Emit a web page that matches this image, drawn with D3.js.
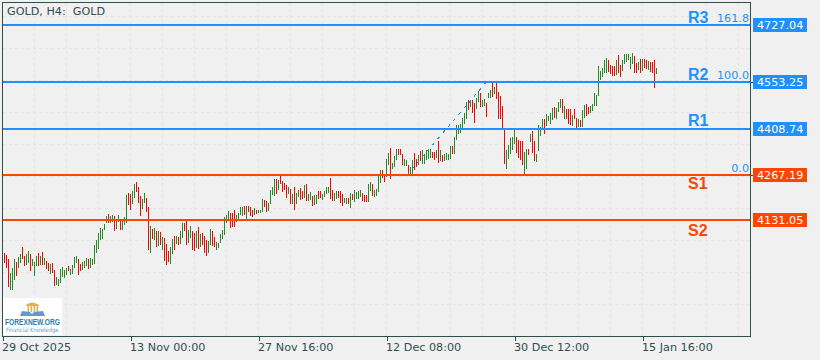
<html>
<meta charset="utf-8" />
<head>
<title>GOLD H4</title>
<script src="https://cdn.jsdelivr.net/npm/d3@7/dist/d3.min.js"></script>
<style>
	body { margin:0; background:#f0f0f0; }
	svg { display:block; }
	text { font-family:"DejaVu Sans"; }
</style>
<script>
// high / low of each H4 bar
const highs = [
	4030,4025,4011,3969,3984,4011,4004,4017,4028,4048,4022,4028,4037,4028,4011,4004,4022,4030,4022,4034,
	4015,4005,4001,3997,4001,3979,3957,3951,3982,3987,3979,3984,3991,3981,3993,4017,4022,4011,3997,4003,
	4007,4015,4011,4014,4013,4055,4070,4090,4106,4103,4119,4143,4149,4143,4146,4143,4133,4146,4131,4131,
	4139,4207,4214,4212,4220,4240,
	4247,4232,4204,4194,4214,4197,4172,4113,4103,4106,4096,4098,4095,4080,4075,4058,4037,4048,4073,4083,
	4083,4080,4098,4121,4123,4129,4101,4113,4096,4090,4098,4111,4087,4092,4083,4070,4068,4104,4098,4080,
	4065,4062,4088,4101,4141,4146,4159,4153,4153,4161,4146,4153,4172,4172,4174,4175,4174,4170,4163,4168,
	4163,4161,4161,4195,4192,4190,4184,
	4223,4231,4255,4256,4253,4265,4250,4243,4238,4231,4226,4212,4231,4214,4223,4228,4221,4238,4240,4212,
	4217,4204,4206,4207,4220,4220,4212,4220,4233,4231,4258,4223,4214,4220,4220,4220,4212,4197,4199,4199,
	4214,4210,4223,4217,4220,4223,4214,4207,4207,4240,4248,4241,4223,4226,4268,4285,4285,4270,4319,4336,
	4352,4304,4326,4347,4349,4347,4334,4317,
	4315,4298,4293,4313,4336,4318,4329,4341,4344,4334,4346,4346,4348,4339,4339,4344,4374,4344,4331,4332,
	4336,4334,4356,4356,4384,4420,4420,4425,4443,4459,4493,4498,4498,4498,4488,4503,4526,4520,4498,4501,
	4488,4518,4528,4553,4538,4553,4523,4510,4478,4410,4344,4359,4381,4386,4405,4386,4377,4374,4372,4339,
	4349,4349,4394,4402,4374,4332,4420,
	4415,4439,4439,4455,4449,4459,4474,4477,4472,4492,4500,4500,4479,4469,4469,4470,4452,4469,4442,4439,
	4437,4467,4482,4487,4477,4479,4487,4518,4513,4601,4587,4596,4619,4627,4619,4606,4601,4601,4619,4634,
	4606,4619,4639,4637,4639,4629,4641,4631,4612,4613,4622,4624,4622,4619,4616,4614,4614,4619,4597
];
const lows = [
	3999,3984,3926,3916,3916,3949,3961,3984,4001,4011,3989,3994,3999,3974,3991,3961,3989,3991,3994,3994,
	3994,3981,3974,3967,3969,3928,3933,3930,3938,3957,3954,3963,3976,3963,3967,3984,3999,3964,3974,3979,
	3984,3989,3981,3984,3995,3997,4030,4042,4070,4072,4101,4121,4123,4121,4126,4096,4103,4126,4099,4101,
	4116,4121,4177,4161,4180,4197,
	4216,4184,4143,4166,4184,4156,4040,4030,4072,4070,4048,4052,4056,4040,4007,3994,4004,3997,4028,4040,
	4058,4055,4058,4075,4098,4055,4062,4075,4040,4037,4045,4042,4048,4055,4030,4022,4030,4055,4052,4048,
	4040,4045,4062,4072,4085,4121,4133,4106,4111,4111,4126,4133,4146,4143,4146,4133,4156,4143,4141,4146,
	4148,4151,4151,4156,4172,4156,4159,
	4180,4207,4205,4212,4223,4240,4217,4223,4197,4210,4180,4180,4162,4180,4200,4192,4194,4197,4190,4190,
	4192,4174,4177,4180,4194,4197,4192,4202,4212,4214,4194,4190,4190,4195,4197,4182,4174,4182,4180,4180,
	4169,4192,4185,4194,4194,4202,4189,4185,4185,4185,4221,4205,4200,4205,4218,4245,4260,4248,4263,4299,
	4256,4286,4294,4314,4329,4329,4299,4296,
	4295,4271,4271,4271,4283,4293,4298,4311,4301,4303,4315,4318,4321,4321,4315,4321,4305,4311,4308,4311,
	4315,4315,4318,4334,4334,4376,4394,4396,4410,4423,4440,4467,4475,4459,4427,4469,4493,4475,4475,4478,
	4445,4503,4503,4506,4516,4500,4440,4440,4410,4301,4288,4318,4332,4344,4362,4336,4321,4313,4298,4273,
	4288,4329,4369,4337,4311,4308,4342,
	4389,4411,4394,4417,4434,4425,4437,4442,4440,4462,4472,4459,4439,4439,4425,4422,4419,4439,4411,4415,
	4415,4415,4442,4449,4455,4459,4465,4479,4479,4510,4558,4569,4579,4581,4584,4576,4571,4571,4574,4579,
	4569,4587,4607,4614,4619,4594,4609,4581,4579,4589,4579,4587,4597,4594,4589,4584,4579,4535,4577
];
// g = up bar, r = down bar
const barDirs = (
	"rrrgggrggrrggrgggrgr" + "grrgrrggggggrggggrrg" + "ggrgggggggggrggrggrg" + "ggrrgg" +
	"rrrggrrgrgrgrgrrrggr" + "grggrrggrrgrgrrrggrr" + "gggggggrrrggggrgrrrg" + "rgggrrg" +
	"gggrgrrrrgrgrggrrgrg" + "grggrrggggrrggrrrggr" + "grggggrrrggrggggrrgg" + "rgggrrrg" +
	"grggrrgrgggggrrgrgrg" + "gggrgggggggrgrrggrgg" + "rggrgrrrrrgggggrrrrg" + "grgrrgg" +
	"ggrggggrgggrgrrrgrrg" + "rggrrgggggggggrrrrgr" + "rggggggrrgrgrrgrrrg"
).split("");

const levelNames = ["R3", "R2", "R1", "S1", "S2"];
const levelPrices = [4727.04, 4553.25, 4408.74, 4267.19, 4131.05];
const levelColors = ["#1e90ff", "#1e90ff", "#1e90ff", "#ff4500", "#ff4500"];

const fibLabels = ["161.8", "100.0", "0.0"];
const fibPrices = [4727.04, 4553.25, 4267.19];
const fibTrendBars = [201, 241];
const fibTrendPrices = [4267.19, 4553.25];

const timeLabels = ["29 Oct 2025", "13 Nov 00:00", "27 Nov 16:00", "12 Dec 08:00", "30 Dec 12:00", "15 Jan 16:00"];
const timeBars = [-1, 63, 127, 191, 255, 319];
const priceTicks = [4553.25, 4267.19];

window.onload = function() {
	const frameColor = "#2f4f4f";
	const svg = d3.select("svg");

	const xScale = d3.scaleLinear().domain([0, 326]).range([4.5, 656.5]);
	const yScale = d3.scaleLinear().domain([4131.05, 4727.04]).range([220, 25]);

	// grid
	const grid = svg.append("g").attr("stroke", "#e6e6e6").attr("stroke-dasharray", "3,3").attr("shape-rendering", "crispEdges");
	d3.range(34, 750, 32).forEach(x => {
		grid.append("line").attr("x1", x + 0.5).attr("x2", x + 0.5).attr("y1", 3).attr("y2", 336);
	});
	d3.range(16, 336, 32).forEach(y => {
		grid.append("line").attr("x1", 3).attr("x2", 750).attr("y1", y + 0.5).attr("y2", y + 0.5);
	});

	// bars
	svg.append("g").attr("shape-rendering", "crispEdges").selectAll("line")
		.data(highs)
		.enter()
		.append("line")
		.attr("x1", (d, i) => xScale(i))
		.attr("x2", (d, i) => xScale(i))
		.attr("y1", d => yScale(d))
		.attr("y2", (d, i) => yScale(lows[i]))
		.attr("stroke", (d, i) => barDirs[i] == "g" ? "#228b22" : "#ff0000");

	// fibo trend line
	svg.append("line")
		.attr("x1", xScale(fibTrendBars[0]))
		.attr("y1", yScale(fibTrendPrices[0]))
		.attr("x2", xScale(fibTrendBars[1]))
		.attr("y2", yScale(fibTrendPrices[1]))
		.attr("stroke", "#1e90ff")
		.attr("stroke-dasharray", "3,5")
		.attr("shape-rendering", "crispEdges");

	// levels
	svg.append("g").selectAll("rect")
		.data(levelPrices)
		.enter()
		.append("rect")
		.attr("x", 3)
		.attr("width", 748)
		.attr("y", d => Math.round(yScale(d)) - 1)
		.attr("height", 2)
		.attr("fill", (d, i) => levelColors[i])
		.attr("shape-rendering", "crispEdges");

	// frame
	svg.append("rect")
		.attr("x", 2.5).attr("y", 2.5).attr("width", 748).attr("height", 334)
		.attr("fill", "none").attr("stroke", frameColor).attr("shape-rendering", "crispEdges");

	// time axis
	const xAxis = d3.axisBottom(xScale).tickValues(timeBars).tickFormat((d, i) => timeLabels[i]).tickSize(4).tickSizeOuter(0);
	const xAxisG = svg.append("g").attr("transform", "translate(0,337)").call(xAxis);
	xAxisG.select(".domain").remove();
	xAxisG.selectAll("line").attr("stroke", frameColor).attr("shape-rendering", "crispEdges");
	xAxisG.selectAll("text")
		.attr("text-anchor", "start").attr("x", -1).attr("y", 14).attr("dy", 0)
		.attr("fill", frameColor).style("font-size", "11.2px").style("font-family", "DejaVu Sans");

	// small price ticks on the right frame
	const yAxis = d3.axisRight(yScale).tickValues(priceTicks).tickFormat("").tickSize(2).tickSizeOuter(0);
	const yAxisG = svg.append("g").attr("transform", "translate(751,0)").call(yAxis);
	yAxisG.select(".domain").remove();
	yAxisG.selectAll("line").attr("stroke", frameColor).attr("shape-rendering", "crispEdges");

	// price labels
	svg.append("g").selectAll("rect")
		.data(levelPrices)
		.enter()
		.append("rect")
		.attr("x", 753)
		.attr("width", 54)
		.attr("y", d => Math.round(yScale(d)) - 7)
		.attr("height", 14)
		.attr("fill", (d, i) => levelColors[i]);
	svg.append("g").selectAll("text")
		.data(levelPrices)
		.enter()
		.append("text")
		.attr("x", 757)
		.attr("y", d => Math.round(yScale(d)) + 4)
		.attr("fill", "#fff")
		.style("font-size", "11.2px")
		.text(d => d.toFixed(2));

	// R / S names
	const nameOffsets = [-2, -2.5, -3, 14, 16];
	svg.append("g").selectAll("text")
		.data(levelNames)
		.enter()
		.append("text")
		.attr("x", 688)
		.attr("y", (d, i) => Math.round(yScale(levelPrices[i])) + nameOffsets[i])
		.attr("fill", (d, i) => levelColors[i])
		.style("font-family", "Liberation Sans")
		.style("font-weight", "bold")
		.style("font-size", "16px")
		.text(d => d);

	// fibo labels
	svg.append("g").selectAll("text")
		.data(fibLabels)
		.enter()
		.append("text")
		.attr("x", 749)
		.attr("y", (d, i) => Math.round(yScale(fibPrices[i])) - 3.5)
		.attr("text-anchor", "end")
		.attr("fill", "#1e90ff")
		.style("font-size", "11.2px")
		.text(d => d);

	// title
	svg.append("text").attr("x", 7).attr("y", 15).attr("fill", frameColor).style("font-size", "11.2px").style("white-space", "pre").text("GOLD, H4:  GOLD");

	// logo
	const logo = svg.append("g");
	logo.append("rect").attr("x", 3).attr("y", 298).attr("width", 59).attr("height", 37).attr("fill", "#fff");
	logo.append("path").attr("d", "M26 305 Q32 300 39 305 L39 306 L26 306 Z").attr("fill", "#d9b45a");
	[28, 31, 34, 37].forEach(x => {
		logo.append("rect").attr("x", x - 0.5).attr("y", 306).attr("width", 1.6).attr("height", 6).attr("fill", "#d9b45a");
	});
	logo.append("path").attr("d", "M20 316 L22 311 L30 312 L32 314 L34 312 L43 311 L45 316 Z").attr("fill", "#5b9bd5");
	logo.append("text").attr("x", 5).attr("y", 325).attr("fill", "#2a7fb8")
		.attr("textLength", 55).attr("lengthAdjust", "spacingAndGlyphs")
		.style("font-family", "Liberation Sans").style("font-weight", "bold").style("font-size", "8.5px").text("FOREXNEW.ORG");
	logo.append("text").attr("x", 6).attr("y", 332).attr("fill", "#6f9cc0")
		.attr("textLength", 54).attr("lengthAdjust", "spacingAndGlyphs")
		.style("font-size", "6px").text("Financial Knowledge.");
}
</script>
</head>
<body>
<svg width="820" height="360"></svg>
</body>
</html>
